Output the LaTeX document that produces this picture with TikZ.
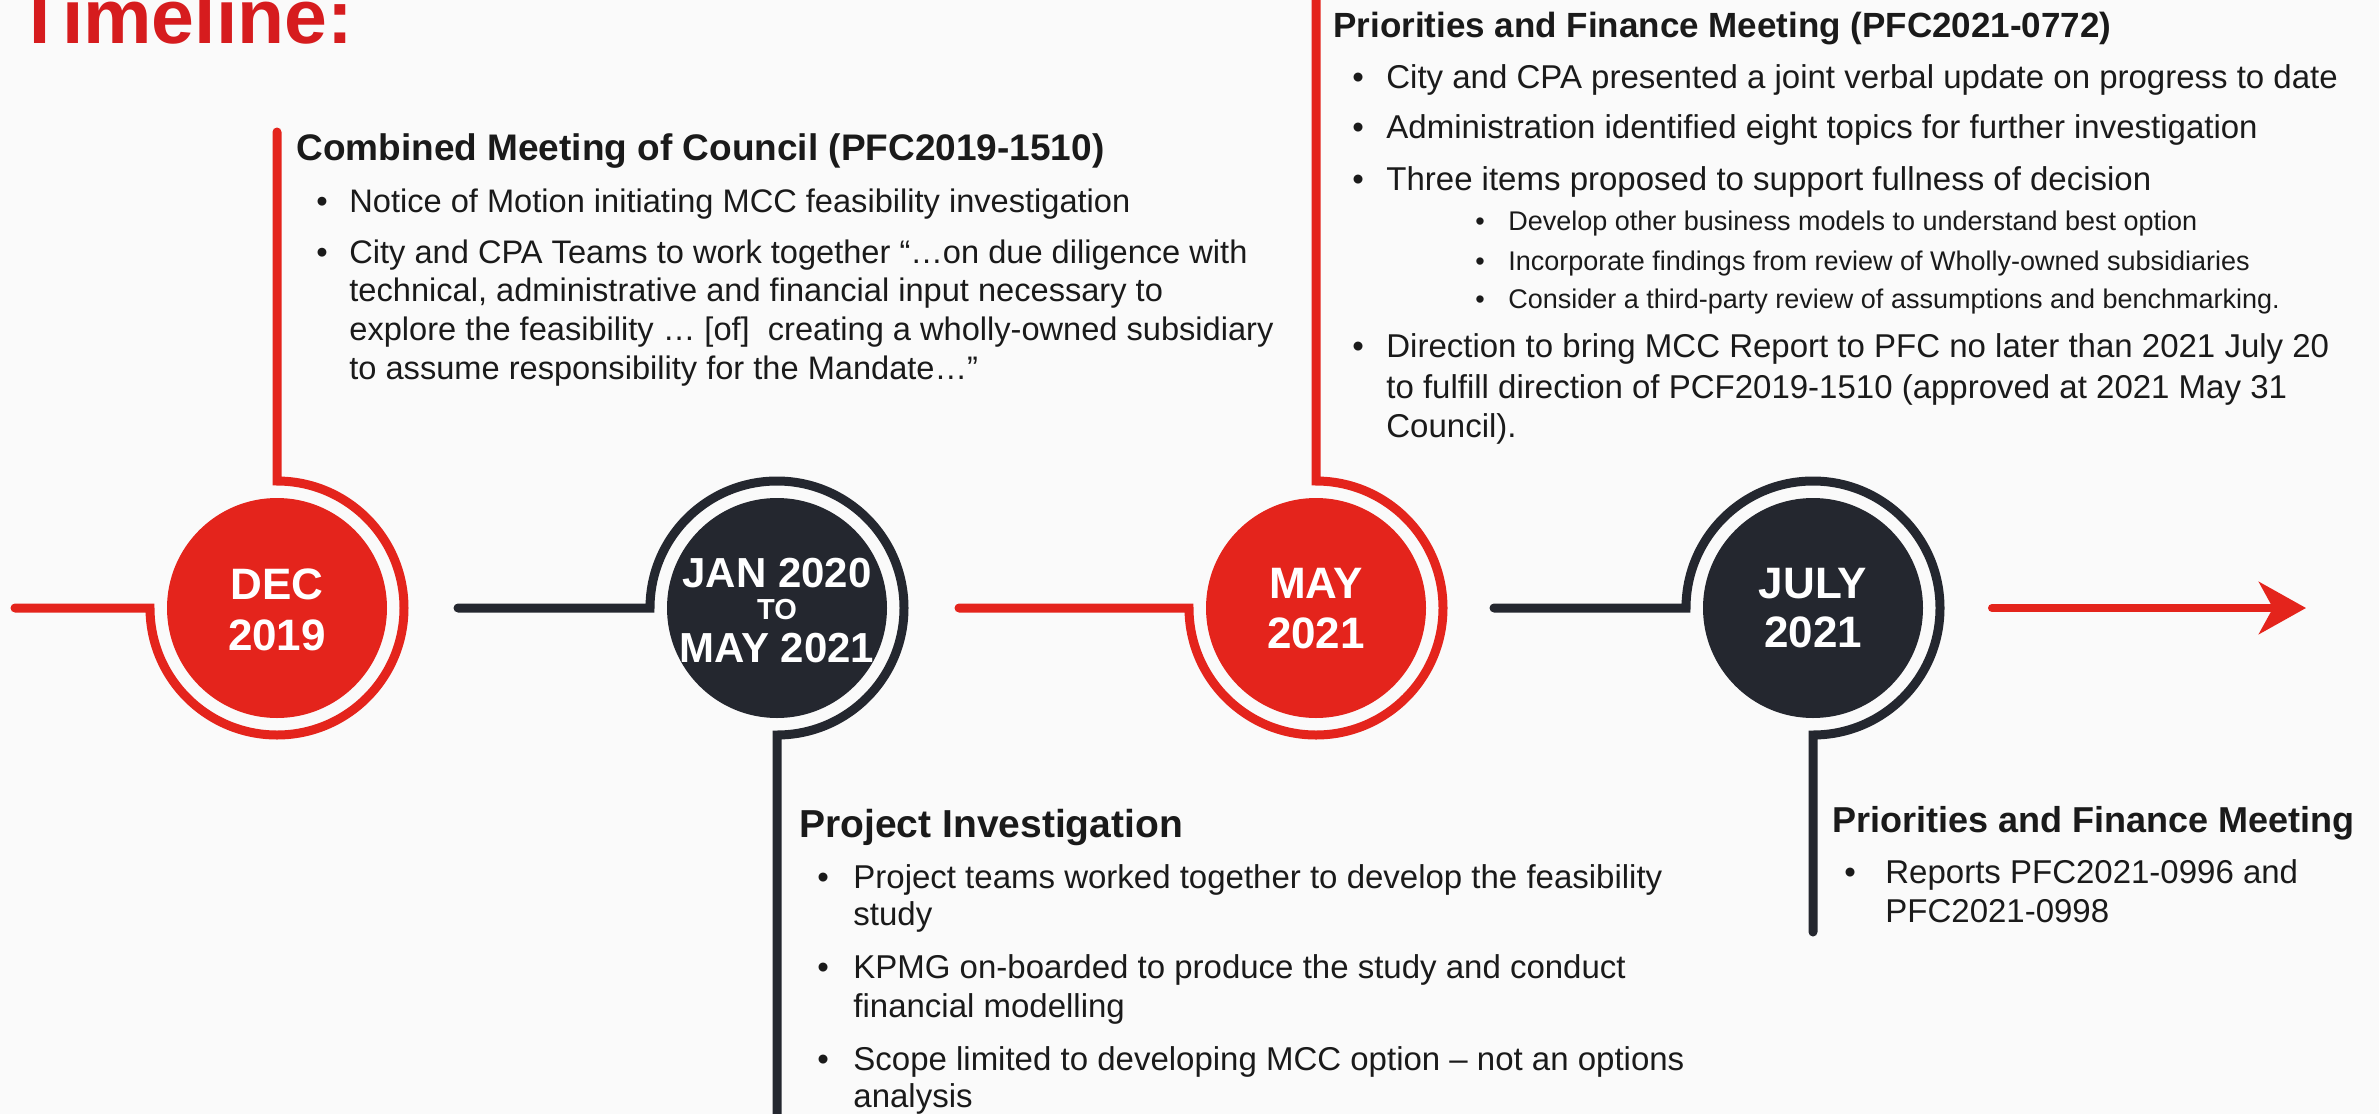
\documentclass[tikz,border=0pt]{standalone}
\usepackage{fontspec}
\setmainfont{Liberation Sans}
\usetikzlibrary{arrows.meta}
\definecolor{cred}{RGB}{228,36,28}
\definecolor{tred}{RGB}{214,28,30}
\definecolor{cdark}{RGB}{36,39,47}
\definecolor{ctext}{RGB}{26,26,26}
\definecolor{bgc}{RGB}{250,250,250}
\begin{document}
\begin{tikzpicture}[x=0.5pt,y=0.5pt,
  ring/.style={line width=4.5pt, line cap=round},
  dot/.style={circle, inner sep=0pt, minimum size=110pt},
  datel/.style={anchor=base, inner sep=0pt, text=white, font=\bfseries\fontsize{22}{22}\selectfont},
  head/.style={anchor=base west, inner sep=0pt, text=ctext, font=\bfseries\fontsize{17.5}{17.5}\selectfont},
  body/.style={anchor=base west, inner sep=0pt, text=ctext, font=\fontsize{16.5}{16.5}\selectfont},
  cbody/.style={body, font=\fontsize{16.3}{16.3}\selectfont},
  subb/.style={anchor=base west, inner sep=0pt, text=ctext, font=\fontsize{13.5}{13.5}\selectfont}]
\fill[bgc] (0,0) rectangle (2379,-1114);
\useasboundingbox (0,0) rectangle (2379,-1114);

% title
\node[anchor=base west, inner sep=0pt, text=tred, font=\bfseries\fontsize{38.5}{38.5}\selectfont] (title) at (16,-43) {Timeline:};

% circles
\node[dot, fill=cred] (dec) at (277,-608) {};
\node[dot, fill=cdark] (jan) at (777,-608) {};
\node[dot, fill=cred] (may) at (1316,-608) {};
\node[dot, fill=cdark] (jul) at (1813,-608) {};

\node[datel] (decA) at (277,-599) {DEC};
\node[datel] (decB) at (277,-650) {2019};
\node[datel, font=\bfseries\fontsize{21}{21}\selectfont] (janA) at (777,-587) {JAN 2020};
\node[datel, font=\bfseries\fontsize{14.5}{14.5}\selectfont] (janB) at (777,-619) {TO};
\node[datel, font=\bfseries\fontsize{21}{21}\selectfont] (janC) at (777,-662) {MAY 2021};
\node[datel] (mayA) at (1316,-598) {MAY};
\node[datel] (mayB) at (1316,-648) {2021};
\node[datel] (julA) at (1813,-598) {JULY};
\node[datel] (julB) at (1813,-647) {2021};

% rings and connectors
\coordinate (decL) at (15,-608);
\coordinate (decT) at (277,-132);
\draw[ring, cred] (decL) -- ([xshift=-63.5pt]dec.center) arc[start angle=180, end angle=450, radius=127] -- (decT);

\coordinate (janL) at (458,-608);
\coordinate (janE) at (777,-1130);
\draw[ring, cdark] (janL) -- ([xshift=-63.5pt]jan.center) arc[start angle=180, end angle=-90, radius=127] -- (janE);

\coordinate (mayL) at (959,-608);
\coordinate (mayT) at (1316,20);
\draw[ring, cred] (mayL) -- ([xshift=-63.5pt]may.center) arc[start angle=180, end angle=450, radius=127] -- (mayT);

\coordinate (julL) at (1494,-608);
\coordinate (julE) at (1813,-932);
\draw[ring, cdark] (julL) -- ([xshift=-63.5pt]jul.center) arc[start angle=180, end angle=-90, radius=127] -- (julE);

\coordinate (arrS) at (1992,-608);
\coordinate (arrE) at (2306,-608);
\draw[line width=4pt, cred, line cap=round, -{Stealth[length=23.5pt, width=26pt, inset=7pt]}] (arrS) -- (arrE);

% Combined meeting
\node[head, font=\bfseries\fontsize{18.5}{18.5}\selectfont] (ch) at (296,-160) {Combined Meeting of Council (PFC2019-1510)};
\node[cbody] (cb1) at (316,-212) {•};
\node[cbody] (ct1) at (349,-212) {Notice of Motion initiating MCC feasibility investigation};
\node[cbody] (cb2) at (316,-263) {•};
\node[cbody] (ct2a) at (349,-263) {City and CPA Teams to work together “…on due diligence with};
\node[cbody] (ct2b) at (349,-301) {technical, administrative and financial input necessary to};
\node[cbody] (ct2c) at (349,-340) {explore the feasibility … [of]\ \ creating a wholly-owned subsidiary};
\node[cbody] (ct2d) at (349,-379) {to assume responsibility for the Mandate…”};

% Project investigation
\node[head, font=\bfseries\fontsize{19.5}{19.5}\selectfont] (ph) at (799,-837) {Project Investigation};
\node[body] (pb1) at (817,-888) {•};
\node[body] (pt1a) at (853,-888) {Project teams worked together to develop the feasibility};
\node[body] (pt1b) at (853,-925) {study};
\node[body] (pb2) at (817,-978) {•};
\node[body] (pt2a) at (853,-978) {KPMG on-boarded to produce the study and conduct};
\node[body] (pt2b) at (853,-1017) {financial modelling};
\node[body] (pb3) at (817,-1070) {•};
\node[body] (pt3a) at (853,-1070) {Scope limited to developing MCC option – not an options};
\node[body] (pt3b) at (853,-1107) {analysis};

% May meeting
\node[head] (mh) at (1333,-37) {Priorities and Finance Meeting (PFC2021-0772)};
\node[body] (mb1) at (1352,-88) {•};
\node[body] (mt1) at (1386,-88) {City and CPA presented a joint verbal update on progress to date};
\node[body] (mb2) at (1352,-138) {•};
\node[body] (mt2) at (1386,-138) {Administration identified eight topics for further investigation};
\node[body] (mb3) at (1352,-190) {•};
\node[body] (mt3) at (1386,-190) {Three items proposed to support fullness of decision};
\node[subb] (ms1b) at (1475,-230) {•};
\node[subb] (ms1) at (1508,-230) {Develop other business models to understand best option};
\node[subb] (ms2b) at (1475,-270) {•};
\node[subb] (ms2) at (1508,-270) {Incorporate findings from review of Wholly-owned subsidiaries};
\node[subb] (ms3b) at (1475,-308) {•};
\node[subb] (ms3) at (1508,-308) {Consider a third-party review of assumptions and benchmarking.};
\node[body] (mb4) at (1352,-357) {•};
\node[body] (mt4a) at (1386,-357) {Direction to bring MCC Report to PFC no later than 2021 July 20};
\node[body] (mt4b) at (1386,-398) {to fulfill direction of PCF2019-1510 (approved at 2021 May 31};
\node[body] (mt4c) at (1386,-437) {Council).};

% July meeting
\node[head, font=\bfseries\fontsize{18}{18}\selectfont] (jh) at (1832,-832) {Priorities and Finance Meeting};
\node[body] (jb1) at (1844,-883) {•};
\node[body] (jt1a) at (1885,-883) {Reports PFC2021-0996 and};
\node[body] (jt1b) at (1885,-922) {PFC2021-0998};
\end{tikzpicture}
\end{document}
